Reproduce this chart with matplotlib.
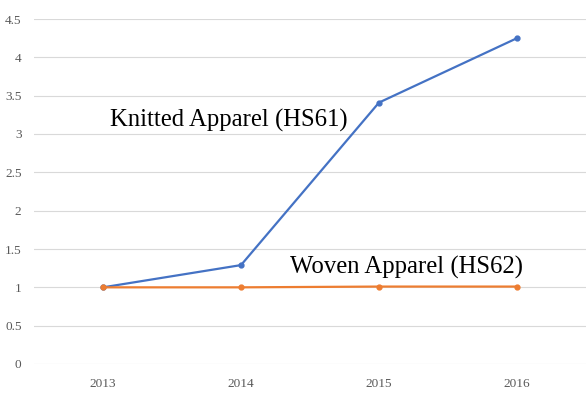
import matplotlib
matplotlib.use('Agg')
import matplotlib.pyplot as plt

# data
years = ['2013', '2014', '2015', '2016']
knitted = [1.0, 1.29, 3.41, 4.25]
woven = [1.0, 1.0, 1.01, 1.01]
yticks = [0, 0.5, 1, 1.5, 2, 2.5, 3, 3.5, 4, 4.5]
ytick_labels = ['0', '0.5', '1', '1.5', '2', '2.5', '3', '3.5', '4', '4.5']

plt.rcParams['font.family'] = ['Liberation Serif', 'DejaVu Serif']

fig = plt.figure(figsize=(5.88, 3.95), dpi=100)
ax = fig.add_axes([34 / 588, 31 / 395, 552 / 588, 345 / 395])

x = list(range(len(years)))
ax.plot(x, knitted, color='#4472C4', lw=1.6, marker='o', ms=3.5, zorder=3)
ax.plot(x, woven, color='#ED7D31', lw=1.6, marker='o', ms=3.5, zorder=3)

ax.set_xlim(-0.5, 3.5)
ax.set_ylim(0, 4.5)
ax.set_xticks(x)
ax.set_xticklabels(years)
ax.set_yticks(yticks)
ax.set_yticklabels(ytick_labels)
ax.grid(axis='y', color='#D9D9D9', lw=0.8)
ax.set_axisbelow(True)
for s in ax.spines.values():
    s.set_visible(False)
ax.tick_params(length=0, colors='#595959', labelsize=9.5)
ax.tick_params(axis='x', pad=10)
ax.tick_params(axis='y', pad=9)

ax.text(0.913, 3.18, 'Knitted Apparel (HS61)', fontsize=17.8, ha='center', va='center', color='black')
ax.text(2.2, 1.26, 'Woven Apparel (HS62)', fontsize=17.8, ha='center', va='center', color='black')

fig.savefig('out.png', dpi=100)
